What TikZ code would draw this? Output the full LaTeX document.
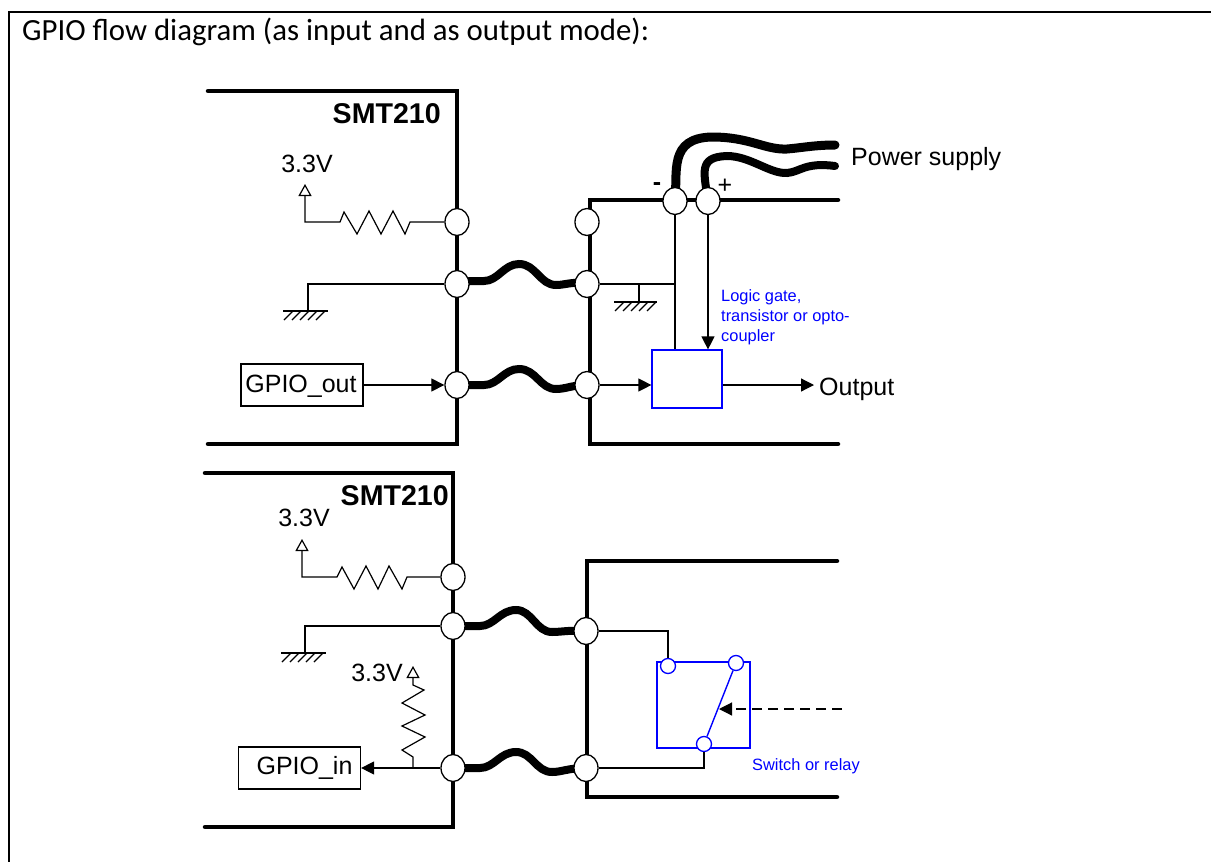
\documentclass[tikz,border=0pt]{standalone}
\usepackage{fontspec}
\setmainfont{Liberation Sans}
\newfontfamily\titlefont{Carlito}
\usetikzlibrary{arrows.meta,shapes.geometric,backgrounds}
\tikzset{
  wall/.style={line width=4.5pt, line cap=round, line join=miter},
  cable/.style={line width=8pt, line cap=round},
  wire/.style={line width=1.2pt},
  pad/.style={draw, ellipse, fill=white, line width=1.3pt, minimum width=24pt, minimum height=27pt, inner sep=0pt},
  arrow/.style={wire, -{Triangle[length=13pt,width=13pt]}},
  supply/.style={wire, -{Triangle[open,length=12pt,width=13pt]}},
  bluebox/.style={draw=blue, line width=1.2pt, inner sep=0pt},
  contact/.style={draw=blue, circle, fill=white, line width=1.3pt, minimum size=15pt, inner sep=0pt},
  label/.style={inner sep=0pt, font=\fontsize{25}{25}\selectfont},
  boldlabel/.style={inner sep=0pt, font=\bfseries\fontsize{28.6}{28.6}\selectfont},
  note/.style={inner sep=0pt, text=blue, font=\fontsize{16.4}{20}\selectfont, align=left},
  plainbox/.style={draw, line width=1.2pt, inner sep=0pt, minimum width=122pt, minimum height=42pt}
}
\begin{document}
\begin{tikzpicture}[x=1pt, y=-1pt]
  \useasboundingbox (0,0) rectangle (1211,862);
  \draw[line width=2pt] (8.5,862) -- (8.5,11.5) -- (1211,11.5);
  \node[inner sep=0pt, anchor=west, font=\titlefont\fontsize{30.8}{31}\selectfont] (title) at (22,32) {GPIO flow diagram (as input and as output mode):};

  \draw[wall] (208,91) -- (457,91) -- (457,444) -- (208,444);
  \draw[wall] (838,200) -- (590,200) -- (590,444) -- (838,444);
  \node[boldlabel, anchor=east] (smtA) at (441,114) {SMT210};
  \node[label] (vccA) at (307,164) {3.3V};
  \node[label, anchor=west] (pwr) at (851,159) {Power supply};
  \node[label, anchor=west] (out) at (819,389) {Output};
  \node[note, anchor=north west] (lgate) at (721,289) {Logic gate,\\transistor or opto-\\coupler};

  \node[pad] (a1) at (457,222) {};
  \node[pad] (a2) at (457,284) {};
  \node[pad] (a3) at (457,385) {};
  \node[pad] (b1) at (587,222) {};
  \node[pad] (b2) at (587,284) {};
  \node[pad] (b3) at (587,385) {};
  \node[pad] (c1) at (675,201) {};
  \node[pad] (c2) at (708,201) {};
  \node[label, font=\bfseries\fontsize{25}{25}\selectfont] (minus) at (657,187) {-};
  \node[label] (plus) at (725,186) {+};

  \begin{scope}[on background layer]
    \draw[cable] (a2.center) -- (470,281) -- (484,281) .. controls (498,281) and (504,264) .. (519,264) .. controls (536,264) and (540,285) .. (556,285) .. controls (566,285) and (572,281) .. (b2.center);
    \draw[cable] (a3.center) -- (470,385) -- (484,385) .. controls (498,385) and (504,369) .. (519,369) .. controls (536,369) and (540,389) .. (556,389) .. controls (566,389) and (572,385) .. (b3.center);
    \draw[cable, line width=9pt] (c1.center) .. controls (678,172) and (668,138) .. (712,137) .. controls (750,137) and (765,150) .. (787,149) .. controls (800,148) and (815,145) .. (835,145);
    \draw[cable] (c2.center) .. controls (704,172) and (698,157) .. (727,156) .. controls (750,156) and (770,174) .. (787,173) .. controls (800,172) and (805,162) .. (835,166);
  \end{scope}

  \draw[supply] (a1.west) -- (410,222) -- (405,234) -- (393,211) -- (381,234) -- (369,211) -- (357,234) -- (344,212) -- (340,222) -- (305,222) -- (305,184);
  \draw[wire] (a2.west) -- (308,284) -- (308,311);
  \draw[wire] (283,311) -- (328,311);
  \foreach \x in {0,8,...,32} {\draw[wire] (293+\x,311) -- (284+\x,320);}

  \node[plainbox] (gout) at (302,385) {};
  \node[label] at (301,386) {GPIO\_out};
  \draw[arrow] (gout) -- (a3.west);

  \node[bluebox, minimum width=70pt, minimum height=58pt] (gate) at (687,379) {};
  \draw[wire] (b2) -- (b2 -| c1);
  \draw[wire] (c1) -- (gate.north -| c1);
  \draw[wire] (639,284) -- (639,302);
  \draw[wire] (614,302) -- (657,302);
  \foreach \x in {0,8,...,32} {\draw[wire] (624+\x,302) -- (615+\x,311);}
  \draw[arrow] (c2) -- (gate.north -| c2);
  \draw[arrow] (b3) -- (gate.west |- b3);
  \draw[arrow] (gate.east |- b3) -- (814,385);

  \draw[wall] (205,473) -- (453,473) -- (453,827) -- (205,827);
  \draw[wall] (837,561) -- (587,561) -- (587,797) -- (837,797);
  \node[boldlabel, anchor=east] (smtB) at (449,496) {SMT210};
  \node[label] (vccB) at (304,518) {3.3V};
  \node[label] (vccC) at (377,673) {3.3V};

  \node[pad] (d1) at (453,577) {};
  \node[pad] (d2) at (453,626) {};
  \node[pad] (d3) at (453,768) {};
  \node[pad] (e2) at (586,631) {};
  \node[pad] (e3) at (586,768) {};

  \begin{scope}[on background layer]
    \draw[cable] (d2.center) -- (466,626) -- (480,626) .. controls (494,626) and (500,610) .. (516,610) .. controls (532,610) and (536,632) .. (552,632) .. controls (562,632) and (568,630) .. (e2.center);
    \draw[cable] (d3.center) -- (466,768) -- (480,768) .. controls (494,768) and (500,752) .. (516,752) .. controls (532,752) and (536,772) .. (552,772) .. controls (562,772) and (568,768) .. (e3.center);
  \end{scope}

  \draw[supply] (d1.west) -- (407,577) -- (402,589) -- (389,566) -- (378,589) -- (366,566) -- (354,589) -- (342,567) -- (337,577) -- (302,577) -- (302,539);
  \draw[wire] (d2.west) -- (305,626) -- (305,653);
  \draw[wire] (281,653) -- (326,653);
  \foreach \x in {0,8,...,32} {\draw[wire] (291+\x,653) -- (282+\x,662);}

  \node[plainbox] (gin) at (299.5,768) {};
  \node[label] at (304.5,768) {GPIO\_in};
  \draw[arrow] (d3.west) -- (gin.east |- d3);
  \draw[supply] (413,768) -- (413,757) -- (402,750) -- (425,737) -- (402,726) -- (425,715) -- (402,703) -- (424,690) -- (413,685) -- (413,666);

  \node[bluebox, minimum width=93pt, minimum height=86pt] (relay) at (703.5,705) {};
  \node[contact] (k1) at (668,666) {};
  \node[contact] (k2) at (736,663) {};
  \node[contact] (k3) at (704,744) {};
  \draw[blue, line width=1.4pt] (k3) -- (k2);
  \draw[wire] (e2) -- (e2 -| k1) -- (k1);
  \draw[wire] (e3) -- (e3 -| k3) -- (k3);
  \draw[arrow, dash pattern=on 10pt off 6pt] (842,709) -- (719,709);
  \node[note, anchor=west] (sw) at (752,766) {Switch or relay};
\end{tikzpicture}
\end{document}
